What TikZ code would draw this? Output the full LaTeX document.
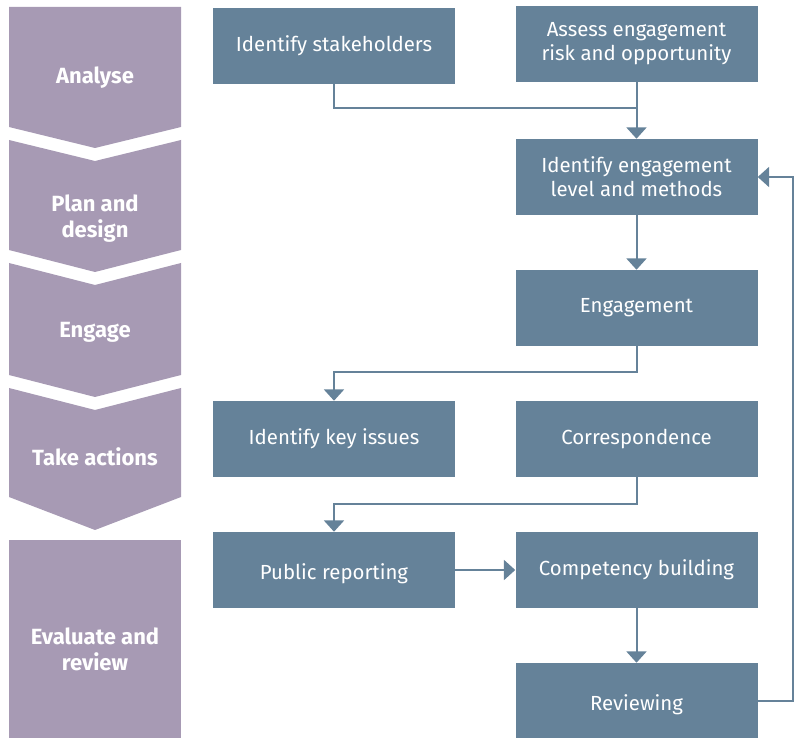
\documentclass[tikz,border=0pt]{standalone}
\usepackage{fontspec}
\setmainfont{Fira Sans}
\usepackage{tikz}
\usetikzlibrary{arrows.meta,shapes}

\definecolor{phasecol}{HTML}{A79AB4}
\definecolor{stepcol}{HTML}{658299}

\newcommand{\lowtext}[1]{\raisebox{-3pt}[\height][\depth]{#1}}

\tikzset{
  phase/.style={fill=phasecol},
  phaselabel/.style={text=white, font=\fontsize{16.5}{19.5}\selectfont\bfseries, align=center},
  stepbox/.style={fill=stepcol, text=white, minimum width=181.5pt, minimum height=57pt,
    inner sep=0pt, align=center, font=\fontsize{15.3}{18}\selectfont},
  link/.style={draw=stepcol, line width=1.5pt, >={Triangle[width=15pt,length=8.5pt]}}
}

\begin{document}
\begin{tikzpicture}[x=0.75pt, y=-0.75pt]
		\useasboundingbox (0,0) rectangle (794,738);

		\fill[phase] (9,7) -- (181,7) -- (181,127) -- (95,148) -- (9,127) -- cycle;
		\fill[phase] (9,140) -- (95,161) -- (181,140) -- (181,250) -- (95,272) -- (9,250) -- cycle;
		\fill[phase] (9,263) -- (95,285) -- (181,263) -- (181,375) -- (95,397) -- (9,375) -- cycle;
		\fill[phase] (9,388) -- (95,410) -- (181,388) -- (181,497) -- (95,530) -- (9,497) -- cycle;
		\fill[phase] (9,540) rectangle (181,738);

		\node[phaselabel] (analyse) at (95,78) {Analyse};
		\node[phaselabel] (plan) at (95,219) {Plan and\\design};
		\node[phaselabel] (engage) at (95,332) {Engage};
		\node[phaselabel] (act) at (95,457) {Take actions};
		\node[phaselabel] (evaluate) at (95,649) {Evaluate and\\review};

		\node[stepbox] (stake) at (334,46) {Identify stakeholders};
		\node[stepbox] (risk) at (636.5,44) {Assess engagement\\risk and opportunity};
		\node[stepbox] (level) at (636.5,177) {Identify engagement\\level and methods};
		\node[stepbox] (engagement) at (636.5,308) {Engagement};
		\node[stepbox] (issues) at (334,439) {Identify key issues};
		\node[stepbox] (corr) at (636.5,439) {Correspondence};
		\node[stepbox] (public) at (334,570) {\lowtext{Public reporting}};
		\node[stepbox] (comp) at (636.5,570) {Competency building};
		\node[stepbox] (review) at (636.5,701) {\lowtext{Reviewing}};

		\coordinate (join) at (636.5,108);
		\draw[link] (stake.south) |- (join);
		\draw[link,->] (risk.south) -- (level.north);
		\draw[link,->] (level.south) -- (engagement.north);
		\draw[link,->] (engagement.south) -- ++(0,26) -| (issues.north);
		\draw[link,->] (corr.south) -- ++(0,27) -| (public.north);
		\draw[link,->] (public.east) -- (comp.west);
		\draw[link,->] (comp.south) -- (review.north);
		\draw[link,->] (review.east) -- ++(35,0) |- (level.east);
	\end{tikzpicture}
\end{document}
